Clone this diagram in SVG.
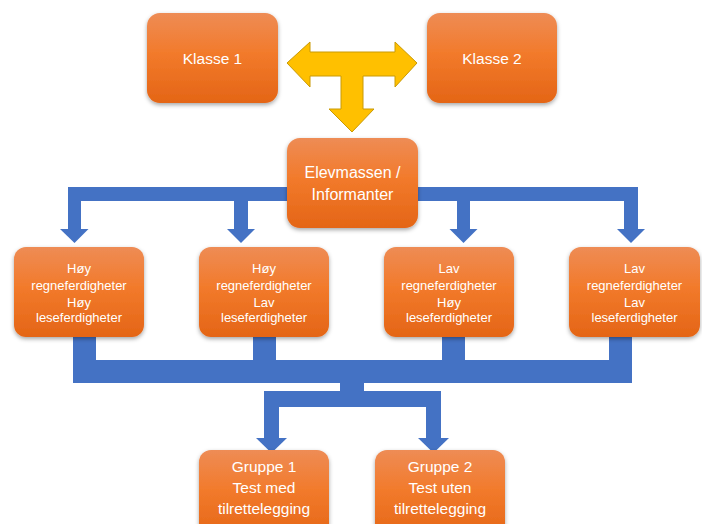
<svg xmlns="http://www.w3.org/2000/svg" width="702" height="524" viewBox="0 0 702 524">
<defs>
<linearGradient id="og" x1="0" y1="0" x2="0" y2="1">
<stop offset="0" stop-color="#EE8C55"/>
<stop offset="0.45" stop-color="#F27A2B"/>
<stop offset="1" stop-color="#E46516"/>
</linearGradient>
<filter id="sh" x="-10%" y="-10%" width="125%" height="130%">
<feDropShadow dx="0" dy="2" stdDeviation="2" flood-color="#000" flood-opacity="0.35"/>
</filter>
<style>
.box{fill:url(#og);filter:url(#sh);}
.t{font-family:"Liberation Sans",Arial,sans-serif;fill:#fff;text-anchor:middle;}
.big{font-size:15.5px;}
.sm{font-size:13px;}
.blue{fill:#4472C4;}
</style>
</defs>
<rect width="702" height="524" fill="#fff"/>
<g id="connectors">
<polygon id="yellow" points="287,63 310,42 310,52 395,52 395,42 417,63 395,87 395,76 363,76 363,109 374,109 352,132 329,109 341,109 341,76 310,76 310,87" fill="#FFC000" stroke="#C99A06" stroke-width="1"/>
<g class="blue">
<rect x="68" y="187" width="570" height="14"/>
<rect x="68" y="187" width="13" height="42"/>
<polygon points="60,229 88.5,229 74.5,243"/>
<rect x="234" y="187" width="14" height="42"/>
<polygon points="227,229 255,229 241,243"/>
<rect x="457" y="187" width="13" height="42"/>
<polygon points="449.5,229 477.5,229 463.5,243"/>
<rect x="624" y="187" width="14" height="42"/>
<polygon points="617,229 645,229 631,243"/>
<rect x="73" y="330" width="23" height="53"/>
<rect x="253" y="330" width="23" height="53"/>
<rect x="442" y="330" width="23" height="53"/>
<rect x="609" y="330" width="23" height="53"/>
<rect x="73" y="360" width="559" height="23"/>
<rect x="340" y="360" width="24" height="47"/>
<rect x="264" y="391" width="177" height="16"/>
<rect x="264" y="391" width="15" height="47"/>
<polygon points="256,438 287,438 271.5,453"/>
<rect x="426" y="391" width="15" height="47"/>
<polygon points="418,438 449,438 433.5,453"/>
</g>
</g>
<g id="klasse1"><rect class="box" x="147" y="13" width="131" height="90" rx="13"/><text class="t big" x="212.5" y="64">Klasse 1</text></g>
<g id="klasse2"><rect class="box" x="427" y="13" width="130" height="90" rx="13"/><text class="t big" x="492" y="64">Klasse 2</text></g>
<g id="elevmassen"><rect class="box" x="287" y="138" width="131" height="90" rx="13"/><text class="t" font-size="16" x="352.5" y="178">Elevmassen /</text><text class="t" font-size="16" x="352.5" y="200">Informanter</text></g>
<g id="hh"><rect class="box" x="14" y="247" width="130" height="90" rx="12"/><text class="t sm" x="79" y="272.5">Høy</text><text class="t sm" x="79" y="289.5">regneferdigheter</text><text class="t sm" x="79" y="306.5">Høy</text><text class="t sm" x="79" y="322">leseferdigheter</text></g>
<g id="hl"><rect class="box" x="199" y="247" width="130" height="90" rx="12"/><text class="t sm" x="264" y="272.5">Høy</text><text class="t sm" x="264" y="289.5">regneferdigheter</text><text class="t sm" x="264" y="306.5">Lav</text><text class="t sm" x="264" y="322">leseferdigheter</text></g>
<g id="lh"><rect class="box" x="384" y="247" width="130" height="90" rx="12"/><text class="t sm" x="449" y="272.5">Lav</text><text class="t sm" x="449" y="289.5">regneferdigheter</text><text class="t sm" x="449" y="306.5">Høy</text><text class="t sm" x="449" y="322">leseferdigheter</text></g>
<g id="ll"><rect class="box" x="569" y="247" width="131" height="90" rx="12"/><text class="t sm" x="634.5" y="272.5">Lav</text><text class="t sm" x="634.5" y="289.5">regneferdigheter</text><text class="t sm" x="634.5" y="306.5">Lav</text><text class="t sm" x="634.5" y="322">leseferdigheter</text></g>
<g id="gruppe1"><rect class="box" x="199" y="450" width="130" height="90" rx="12"/><text class="t big" x="264" y="472">Gruppe 1</text><text class="t big" x="264" y="493">Test med</text><text class="t big" x="264" y="514">tilrettelegging</text></g>
<g id="gruppe2"><rect class="box" x="375" y="450" width="130" height="90" rx="12"/><text class="t big" x="440" y="472">Gruppe 2</text><text class="t big" x="440" y="493">Test uten</text><text class="t big" x="440" y="514">tilrettelegging</text></g>
</svg>
